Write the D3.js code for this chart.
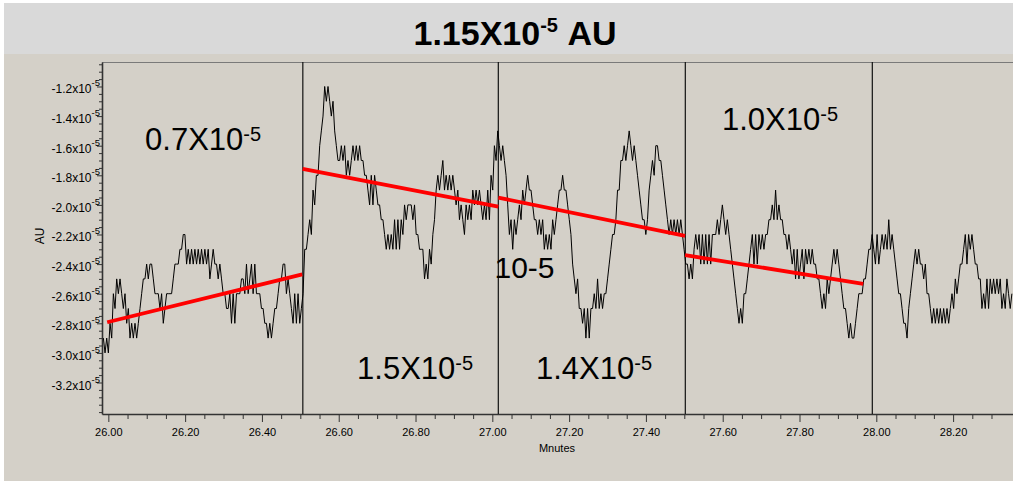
<!DOCTYPE html>
<html>
<head>
<meta charset="utf-8">
<script src="https://cdn.jsdelivr.net/npm/d3@7"></script>
<style>
  html, body { margin: 0; padding: 0; background: #ffffff; }
  svg { display: block; }
  text { font-family: "Liberation Sans", Arial, Helvetica, sans-serif; }
</style>
</head>
<body>
<svg id="chart" width="1013" height="481"></svg>
<script>
// ---- data -------------------------------------------------------------
// Detector trace, units of 10^-5 AU, one reading every 0.26 s
const traceStartMin = 25.9871;
const sampleIntervalMin = 0.26 / 60;
const absorbance = [
  -2.9,-3.0,-2.9,-3.0,-2.8,-2.9,-2.6,-2.7,-2.5,-2.6,
  -2.5,-2.6,-2.7,-2.6,-2.8,-2.7,-2.9,-2.8,-2.9,-2.8,
  -2.9,-2.8,-2.7,-2.6,-2.5,-2.5,-2.4,-2.5,-2.4,-2.4,
  -2.5,-2.6,-2.6,-2.6,-2.7,-2.6,-2.8,-2.7,-2.6,-2.6,
  -2.6,-2.6,-2.5,-2.4,-2.4,-2.4,-2.3,-2.3,-2.2,-2.2,
  -2.4,-2.3,-2.4,-2.3,-2.4,-2.3,-2.4,-2.3,-2.4,-2.3,
  -2.4,-2.3,-2.4,-2.3,-2.5,-2.4,-2.3,-2.4,-2.4,-2.5,
  -2.4,-2.5,-2.6,-2.6,-2.7,-2.7,-2.6,-2.8,-2.6,-2.8,
  -2.6,-2.6,-2.6,-2.5,-2.5,-2.6,-2.4,-2.6,-2.5,-2.4,
  -2.6,-2.4,-2.6,-2.6,-2.6,-2.7,-2.7,-2.8,-2.8,-2.9,
  -2.8,-2.9,-2.8,-2.7,-2.7,-2.6,-2.5,-2.5,-2.4,-2.4,
  -2.6,-2.5,-2.6,-2.7,-2.8,-2.6,-2.8,-2.6,-2.8,
  // 26.50 - 27.01
  -2.7,-2.6,-2.3,-2.3,-2.2,-2.1,-2.2,-1.9,-2.0,-1.8,
  -1.8,-1.6,-1.5,-1.4,-1.2,-1.3,-1.2,-1.3,-1.4,-1.3,
  -1.5,-1.6,-1.7,-1.7,-1.6,-1.7,-1.6,-1.8,-1.7,-1.8,
  -1.7,-1.6,-1.7,-1.6,-1.7,-1.6,-1.7,-1.7,-1.8,-1.8,
  -1.9,-2.0,-1.8,-2.0,-1.8,-1.9,-2.0,-2.0,-2.1,-2.1,
  -2.2,-2.3,-2.2,-2.3,-2.2,-2.3,-2.1,-2.3,-2.1,-2.3,
  -2.1,-2.2,-2.0,-2.1,-2.0,-2.0,-2.0,-2.1,-2.0,-2.2,
  -2.2,-2.3,-2.3,-2.3,-2.5,-2.4,-2.5,-2.3,-2.4,-2.2,
  -2.1,-1.9,-1.8,-1.9,-1.8,-1.7,-1.9,-1.8,-1.9,-1.8,
  -1.9,-1.8,-1.9,-2.0,-1.9,-2.1,-2.0,-2.1,-2.2,-2.0,
  -2.1,-2.0,-2.1,-1.9,-2.0,-1.9,-2.0,-1.9,-2.0,-2.1,
  -2.0,-2.1,-1.9,-2.1,-1.8,-1.9,-1.6,-1.7,-1.5,
  // 27.01 - 27.50
  -1.6,-1.7,-1.6,-1.7,-1.8,-2.0,-2.2,-2.1,-2.3,-2.1,
  -2.2,-2.1,-2.0,-2.1,-1.9,-2.0,-1.9,-1.8,-1.9,-1.9,
  -2.0,-2.1,-2.1,-2.2,-2.1,-2.2,-2.1,-2.3,-2.2,-2.3,
  -2.2,-2.3,-2.1,-2.2,-2.1,-2.0,-1.9,-1.9,-1.8,-1.9,
  -1.9,-2.0,-2.1,-2.2,-2.4,-2.5,-2.6,-2.5,-2.7,-2.7,
  -2.8,-2.7,-2.9,-2.7,-2.9,-2.7,-2.7,-2.6,-2.7,-2.5,
  -2.7,-2.6,-2.7,-2.6,-2.6,-2.5,-2.4,-2.3,-2.2,-2.2,
  -2.1,-1.9,-1.9,-1.7,-1.7,-1.6,-1.7,-1.6,-1.5,-1.6,
  -1.7,-1.6,-1.7,-1.8,-1.9,-2.0,-2.1,-2.1,-2.2,-2.1,
  -1.9,-1.8,-1.7,-1.8,-1.6,-1.6,-1.7,-1.7,-1.8,-1.9,
  -2.0,-2.1,-2.2,-2.1,-2.2,-2.1,-2.2,-2.1,-2.2,-2.1,
  -2.2,-2.3,
  // 27.50 - 27.99
  -2.4,-2.4,-2.5,-2.4,-2.5,-2.3,-2.2,-2.3,-2.2,-2.4,
  -2.2,-2.4,-2.2,-2.4,-2.2,-2.4,-2.2,-2.2,-2.2,-2.1,
  -2.2,-2.1,-2.0,-2.1,-2.2,-2.1,-2.2,-2.3,-2.4,-2.5,
  -2.6,-2.7,-2.8,-2.7,-2.8,-2.6,-2.6,-2.5,-2.4,-2.3,
  -2.2,-2.4,-2.2,-2.4,-2.2,-2.3,-2.2,-2.3,-2.2,-2.2,
  -2.1,-2.1,-2.0,-2.1,-1.9,-2.1,-2.0,-2.1,-2.1,-2.2,
  -2.2,-2.3,-2.2,-2.3,-2.4,-2.3,-2.5,-2.3,-2.5,-2.4,
  -2.3,-2.5,-2.3,-2.4,-2.3,-2.4,-2.3,-2.4,-2.4,-2.5,
  -2.5,-2.6,-2.7,-2.6,-2.7,-2.5,-2.6,-2.5,-2.4,-2.3,
  -2.4,-2.3,-2.4,-2.5,-2.6,-2.7,-2.7,-2.8,-2.9,-2.8,
  -2.9,-2.9,-2.8,-2.7,-2.6,
  // 27.99 onward
  -2.6,-2.6,-2.5,-2.5,-2.4,-2.3,-2.3,-2.2,-2.3,-2.4,
  -2.2,-2.4,-2.3,-2.2,-2.3,-2.2,-2.3,-2.1,-2.3,-2.2,
  -2.3,-2.4,-2.5,-2.6,-2.6,-2.7,-2.8,-2.8,-2.9,-2.7,
  -2.6,-2.5,-2.4,-2.3,-2.4,-2.3,-2.4,-2.4,-2.5,-2.4,
  -2.6,-2.6,-2.7,-2.8,-2.7,-2.8,-2.7,-2.8,-2.7,-2.8,
  -2.7,-2.8,-2.7,-2.8,-2.7,-2.6,-2.7,-2.5,-2.6,-2.5,
  -2.4,-2.4,-2.3,-2.2,-2.4,-2.2,-2.3,-2.2,-2.3,-2.4,
  -2.4,-2.5,-2.5,-2.7,-2.6,-2.7,-2.5,-2.7,-2.5,-2.6,
  -2.5,-2.6,-2.5,-2.6,-2.5,-2.7,-2.6,-2.7,-2.5,-2.6,
  -2.7,-2.6
];

// Segment boundaries (minutes)
const segmentMarks = [26.5065, 27.0156, 27.5026, 27.9896];

// Drift lines fitted over each segment (minutes, 10^-5 AU)
const driftStartMin = [25.997, 26.506, 27.0156, 27.502];
const driftEndMin   = [26.505, 27.0156, 27.502, 27.966];
const driftStartAU  = [-2.793, -1.757, -1.951, -2.339];
const driftEndAU    = [-2.469, -2.012, -2.210, -2.534];

// Drift per segment, 10^-5 AU
const driftLabels = ["0.7", "1.5", "1.4", "1.0"];

// Axis ticks
const xTickValues = [26.0, 26.2, 26.4, 26.6, 26.8, 27.0, 27.2, 27.4, 27.6, 27.8, 28.0, 28.2];
const xTickLabels = ["26.00", "26.20", "26.40", "26.60", "26.80", "27.00", "27.20", "27.40", "27.60", "27.80", "28.00", "28.20"];
const yTickValues = [-1.2, -1.4, -1.6, -1.8, -2.0, -2.2, -2.4, -2.6, -2.8, -3.0, -3.2];
const yTickLabels = ["-1.2", "-1.4", "-1.6", "-1.8", "-2.0", "-2.2", "-2.4", "-2.6", "-2.8", "-3.0", "-3.2"];

// ---- layout -----------------------------------------------------------
const W = 1013, H = 481;
const plot = { left: 102, right: 1013, top: 62, bottom: 414 };

const svg = d3.select("#chart");

// backgrounds
svg.append("rect").attr("x", 0).attr("y", 0).attr("width", W).attr("height", H).attr("fill", "#ffffff");
svg.append("rect").attr("x", 4).attr("y", 3).attr("width", W - 4).attr("height", 51).attr("fill", "#d9d9d9");
svg.append("rect").attr("x", 4).attr("y", 54).attr("width", W - 4).attr("height", H - 54).attr("fill", "#d4d0c8");

// title
const title = svg.append("text")
  .attr("x", 515).attr("y", 45)
  .attr("text-anchor", "middle")
  .attr("font-weight", "bold")
  .attr("font-size", 34)
  .attr("fill", "#000");
title.append("tspan").text("1.15X10");
title.append("tspan").attr("font-size", 20).attr("dy", -13).text("-5");
title.append("tspan").attr("dy", 13).text("\u00a0AU");

// scales
const x = d3.scaleLinear().domain([25.9835, 28.356]).range([plot.left, plot.right]);
const y = d3.scaleLinear().domain([-1.0345, -3.4128]).range([plot.top, plot.bottom]);

// clip
svg.append("defs").append("clipPath").attr("id", "plotClip")
  .append("rect")
  .attr("x", plot.left).attr("y", plot.top)
  .attr("width", plot.right - plot.left).attr("height", plot.bottom - plot.top);

// top frame line
svg.append("line")
  .attr("x1", plot.left).attr("x2", plot.right)
  .attr("y1", plot.top + 0.5).attr("y2", plot.top + 0.5)
  .attr("stroke", "#7a7a7a").attr("stroke-width", 1);

// ---- axes ---------------------------------------------------------------
const axisColor = "#333";

// x minor ticks
const xMinor = d3.range(0, 48).map(i => +(25.95 + i * 0.05).toFixed(2))
  .filter(v => v >= x.domain()[0] && v <= x.domain()[1] && !xTickValues.some(t => Math.abs(t - v) < 1e-6));
svg.append("g")
  .attr("transform", `translate(0,${plot.bottom})`)
  .call(d3.axisBottom(x).tickValues(xMinor).tickSize(5).tickSizeOuter(0).tickFormat(""))
  .call(g => g.select(".domain").remove())
  .call(g => g.selectAll("line").attr("stroke", axisColor));

const xAxis = svg.append("g")
  .attr("transform", `translate(0,${plot.bottom})`)
  .call(d3.axisBottom(x).tickValues(xTickValues).tickSize(8).tickSizeOuter(0)
    .tickFormat((d, i) => xTickLabels[i]));
xAxis.select(".domain").attr("stroke", axisColor).attr("stroke-width", 1.6);
xAxis.selectAll(".tick line").attr("stroke", axisColor);
xAxis.selectAll(".tick text")
  .attr("font-family", "'Liberation Sans', Arial, sans-serif")
  .attr("font-size", 11).attr("fill", "#000")
  .attr("y", 0).attr("dy", 22);

// y minor ticks
const yMinor = d3.range(0, 48).map(i => +(-1.05 - i * 0.05).toFixed(2))
  .filter(v => v <= y.domain()[0] && v >= y.domain()[1] && !yTickValues.some(t => Math.abs(t - v) < 1e-6));
svg.append("g")
  .attr("transform", `translate(${plot.left},0)`)
  .call(d3.axisLeft(y).tickValues(yMinor).tickSize(3).tickSizeOuter(0).tickFormat(""))
  .call(g => g.select(".domain").remove())
  .call(g => g.selectAll("line").attr("stroke", axisColor));

const yAxis = svg.append("g")
  .attr("transform", `translate(${plot.left},0)`)
  .call(d3.axisLeft(y).tickValues(yTickValues).tickSize(5).tickSizeOuter(0).tickFormat(""));
yAxis.select(".domain").attr("stroke", axisColor).attr("stroke-width", 1.6);
yAxis.selectAll(".tick line").attr("stroke", axisColor);
yAxis.selectAll(".tick").each(function (d, i) {
  const t = d3.select(this).append("text")
    .attr("x", -2).attr("y", 6.5)
    .attr("text-anchor", "end")
    .attr("font-family", "'Liberation Sans', Arial, sans-serif")
    .attr("font-size", 12).attr("fill", "#000");
  t.append("tspan").text(yTickLabels[i] + "x10");
  t.append("tspan").attr("font-size", 9.5).attr("dy", -7).text("-5");
});

// axis titles
svg.append("text")
  .attr("transform", "translate(44,236) rotate(-90)")
  .attr("text-anchor", "middle")
  .attr("font-size", 12).attr("fill", "#000")
  .text("AU");
svg.append("text")
  .attr("x", 557).attr("y", 452)
  .attr("text-anchor", "middle")
  .attr("font-size", 11).attr("fill", "#000")
  .text("Mnutes");

// ---- marks ----------------------------------------------------------------
const plotG = svg.append("g").attr("clip-path", "url(#plotClip)");

// segment boundaries
plotG.selectAll("line.mark")
  .data(segmentMarks)
  .join("line")
  .attr("class", "mark")
  .attr("x1", d => x(d)).attr("x2", d => x(d))
  .attr("y1", plot.top).attr("y2", plot.bottom)
  .attr("stroke", "#111").attr("stroke-width", 1.2);

// trace
const line = d3.line()
  .x((d, i) => x(traceStartMin + i * sampleIntervalMin))
  .y(d => y(d));
plotG.append("path")
  .datum(absorbance)
  .attr("d", line)
  .attr("fill", "none")
  .attr("stroke", "#000")
  .attr("stroke-width", 1)
  .attr("stroke-linejoin", "miter");

// drift lines
plotG.selectAll("line.drift")
  .data(driftStartMin)
  .join("line")
  .attr("class", "drift")
  .attr("x1", (d, i) => x(driftStartMin[i]))
  .attr("y1", (d, i) => y(driftStartAU[i]))
  .attr("x2", (d, i) => x(driftEndMin[i]))
  .attr("y2", (d, i) => y(driftEndAU[i]))
  .attr("stroke", "#ff0000")
  .attr("stroke-width", 3.8)
  .attr("stroke-linecap", "butt");

// ---- drift annotations ----------------------------------------------------
const noteAnchors = [
  { t: 26.0956, v: -1.6257 },
  { t: 26.6477, v: -3.1784 },
  { t: 27.1138, v: -3.1770 },
  { t: 27.5982, v: -1.4939 }
];
driftLabels.forEach((lab, i) => {
  const a = noteAnchors[i];
  const t = svg.append("text")
    .attr("x", x(a.t)).attr("y", y(a.v))
    .attr("font-size", 31).attr("fill", "#000");
  t.append("tspan").text(lab + "X10");
  t.append("tspan").attr("font-size", 20).attr("dy", -9).text("-5");
});

svg.append("text")
  .attr("x", x(27.0057)).attr("y", y(-2.496))
  .attr("font-size", 30).attr("fill", "#000")
  .text("10-5");
</script>
</body>
</html>
